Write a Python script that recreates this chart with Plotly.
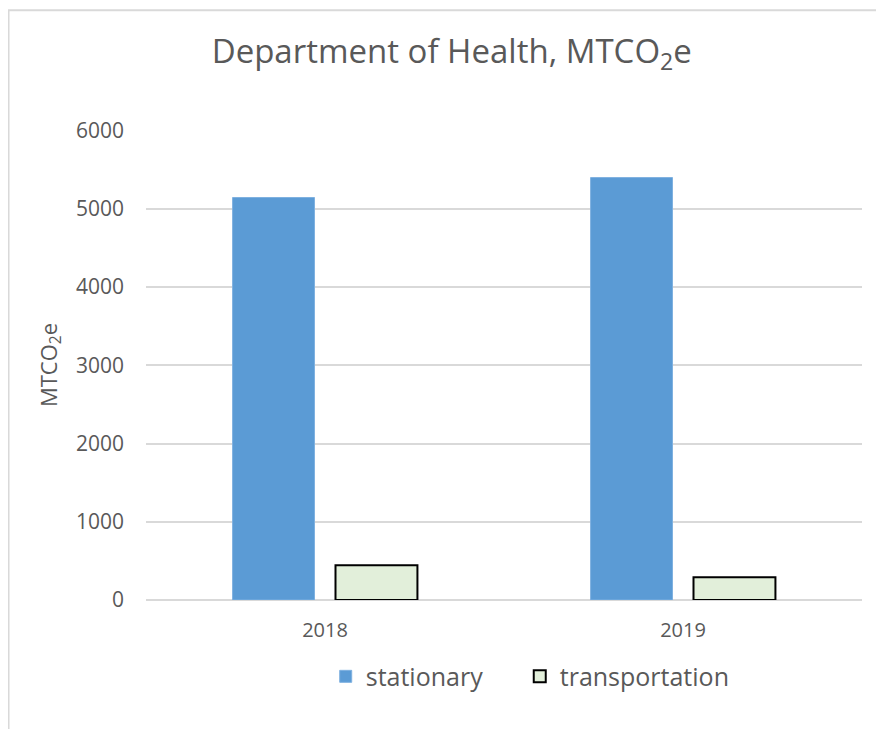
import plotly.graph_objects as go

# data
years = ["2018", "2019"]
stationary = [5145, 5400]
transportation = [443, 290]

y_ticks = [0, 1000, 2000, 3000, 4000, 5000, 6000]

TEXT = "#595959"
GRID = "#D9D9D9"
FONT = "'Open Sans', 'Noto Sans', sans-serif"

fig = go.Figure()

fig.add_trace(
    go.Bar(
        name="stationary",
        x=years,
        y=stationary,
        legend="legend",
        marker=dict(color="#5B9BD5", line=dict(color="#7FB1E0", width=1)),
    )
)
fig.add_trace(
    go.Bar(
        name="transportation",
        x=years,
        y=transportation,
        legend="legend2",
        marker=dict(color="#E2EFDA", line=dict(color="black", width=2)),
    )
)

# thin grey frame round the chart area (cut off on the right and bottom)
fig.add_shape(
    type="rect",
    xref="paper", yref="paper",
    x0=-0.192, x1=1.2, y0=-0.4, y1=1.255,
    line=dict(color=GRID, width=2),
    fillcolor="rgba(0,0,0,0)",
    layer="below",
)

legend_style = dict(
    orientation="h",
    xanchor="left",
    y=-0.114,
    yanchor="top",
    font=dict(size=25, color=TEXT),
    bgcolor="rgba(0,0,0,0)",
)

fig.update_layout(
    width=884,
    height=729,
    margin=dict(l=138, r=30, t=122, b=137),
    plot_bgcolor="white",
    paper_bgcolor="white",
    font=dict(family=FONT, color=TEXT),
    title=dict(
        text="Department of Health, MTCO<sub>2</sub>e",
        x=0.502, xref="container", xanchor="center",
        y=0.94, yref="container", yanchor="middle",
        font=dict(size=33, color=TEXT, family=FONT),
    ),
    barmode="group",
    bargap=0.425,
    bargroupgap=0.204,
    showlegend=True,
    legend=dict(x=0.251, **legend_style),
    legend2=dict(x=0.522, **legend_style),
    xaxis=dict(
        showgrid=False,
        showline=False,
        ticks="",
        ticklabelstandoff=16,
        tickfont=dict(size=20, color=TEXT),
    ),
    yaxis=dict(
        range=[0, 6008],
        tickvals=y_ticks,
        showgrid=True,
        gridcolor=GRID,
        gridwidth=1.5,
        zeroline=True,
        zerolinecolor=GRID,
        zerolinewidth=2,
        ticks="",
        ticklabelstandoff=21,
        tickfont=dict(size=21, color=TEXT),
        title=dict(text="MTCO<sub>2</sub>e", font=dict(size=22, color=TEXT), standoff=12),
    ),
)

fig.write_html("out.html")
